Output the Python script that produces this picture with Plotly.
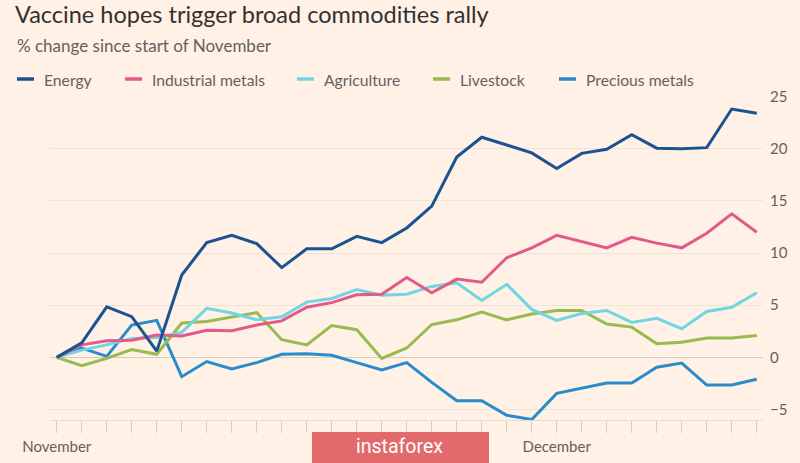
import plotly.graph_objects as go

# ---- data ----
x_index = list(range(29))
x_labels = ["November"] + [""] * 19 + ["December"] + [""] * 8

energy = [0, 1.4, 4.85, 3.9, 0.6, 7.9, 11.0, 11.7, 10.9, 8.6, 10.4, 10.4, 11.6, 11.0,
          12.4, 14.5, 19.2, 21.1, 20.35, 19.6, 18.1, 19.55, 19.95, 21.35, 20.05, 20.0,
          20.1, 23.8, 23.4]
industrial_metals = [0, 1.2, 1.6, 1.65, 2.15, 2.05, 2.6, 2.55, 3.1, 3.5, 4.8, 5.25, 6.0,
                     6.05, 7.65, 6.2, 7.5, 7.2, 9.55, 10.5, 11.7, 11.1, 10.5, 11.5, 10.95,
                     10.5, 11.9, 13.75, 12.0]
agriculture = [0, 0.7, 1.2, 1.8, 1.9, 2.4, 4.7, 4.25, 3.6, 3.9, 5.3, 5.65, 6.5, 5.95, 6.05,
               6.8, 7.15, 5.45, 7.0, 4.6, 3.55, 4.2, 4.5, 3.35, 3.75, 2.75, 4.4, 4.8, 6.2]
livestock = [0, -0.8, -0.1, 0.75, 0.3, 3.3, 3.45, 3.85, 4.3, 1.7, 1.2, 3.05, 2.65, -0.1,
             0.9, 3.15, 3.6, 4.35, 3.6, 4.15, 4.5, 4.5, 3.2, 2.9, 1.3, 1.45, 1.85, 1.85, 2.1]
precious_metals = [0, 0.9, 0.1, 3.1, 3.55, -1.85, -0.4, -1.1, -0.5, 0.3, 0.35, 0.2, -0.5,
                   -1.2, -0.5, -2.4, -4.15, -4.15, -5.55, -5.95, -3.45, -2.95, -2.45, -2.45,
                   -0.95, -0.55, -2.65, -2.65, -2.1]

series_names = ["Energy", "Industrial metals", "Agriculture", "Livestock", "Precious metals"]
series_values = [energy, industrial_metals, agriculture, livestock, precious_metals]
series_colors = ["#1b5391", "#e2598a", "#72d5e2", "#97bb4f", "#2a8bcc"]

y_ticks = [-5, 0, 5, 10, 15, 20, 25]

# ---- layout geometry (pixels) ----
W, H = 800, 463
ML, MR, MT, MB = 50, 37, 96, 43
PW, PH = W - ML - MR, H - MT - MB

def px(xp):
    return (xp - ML) / PW

def py(yp):
    return (H - MB - yp) / PH

FONT = "Lato"
BG = "#fff1e5"
TXT = "#66605c"

fig = go.Figure()
for name, vals, col in reversed(list(zip(series_names, series_values, series_colors))):
    fig.add_trace(go.Scatter(x=x_index, y=vals, mode="lines", name=name,
                             line=dict(color=col, width=3), showlegend=False))

annotations = []
shapes = []

# subtitle
annotations.append(dict(text="% change since start of November", xref="paper", yref="paper",
                        x=px(15), y=py(46), xanchor="left", yanchor="middle", showarrow=False,
                        font=dict(family=FONT, size=17, color=TXT)))

# manual legend
leg_pos = [17, 125, 297, 433, 559]
for name, col, lx in zip(series_names, series_colors, leg_pos):
    shapes.append(dict(type="line", xref="paper", yref="paper", x0=px(lx), x1=px(lx + 17),
                       y0=py(79), y1=py(79), line=dict(color=col, width=3.5)))
    annotations.append(dict(text=name, xref="paper", yref="paper", x=px(lx + 25), y=py(80),
                            xanchor="left", yanchor="middle", showarrow=False,
                            font=dict(family=FONT, size=15.7, color=TXT)))

# watermark
shapes.append(dict(type="rect", xref="paper", yref="paper", x0=px(312), x1=px(489),
                   y0=py(463), y1=py(432), fillcolor="#e26a6b", line=dict(width=0)))
annotations.append(dict(text="instaforex", xref="paper", yref="paper", x=px(399), y=py(446),
                        xanchor="center", yanchor="middle", showarrow=False,
                        font=dict(family="Roboto", size=19.5, color="#ffffff")))

fig.update_layout(
    width=W, height=H,
    margin=dict(l=ML, r=MR, t=MT, b=MB, pad=0, autoexpand=False),
    paper_bgcolor=BG, plot_bgcolor=BG,
    title=dict(text="Vaccine hopes trigger broad commodities rally", x=15 / W, xanchor="left",
               xref="container", y=1 - 15 / H, yref="container", yanchor="middle",
               font=dict(family=FONT, size=23.5, color="#33302e")),
    xaxis=dict(range=[-0.27, 28.25], tickmode="array", tickvals=x_index, ticktext=x_labels,
               ticks="outside", ticklen=12, tickwidth=1, tickcolor="#d9cdc2",
               showline=True, linecolor="#e8dcd1", linewidth=1, showgrid=False,
               zeroline=False, tickfont=dict(family=FONT, size=15, color=TXT),
               tickangle=0, ticklabelstandoff=1, automargin=False),
    yaxis=dict(range=[-6, 25.05], side="right", tickmode="array", tickvals=y_ticks,
               showgrid=True, gridcolor="#efe2d8", gridwidth=1, zeroline=True,
               zerolinecolor="#d8cbc0", zerolinewidth=1, ticks="", ticklabelstandoff=6,
               tickfont=dict(family=FONT, size=15, color=TXT), automargin=False),
    annotations=annotations, shapes=shapes,
    showlegend=False,
)

fig.write_html("out.html", config={"displayModeBar": False},
               post_script="document.body.style.margin='0';document.body.style.overflow='hidden';")
